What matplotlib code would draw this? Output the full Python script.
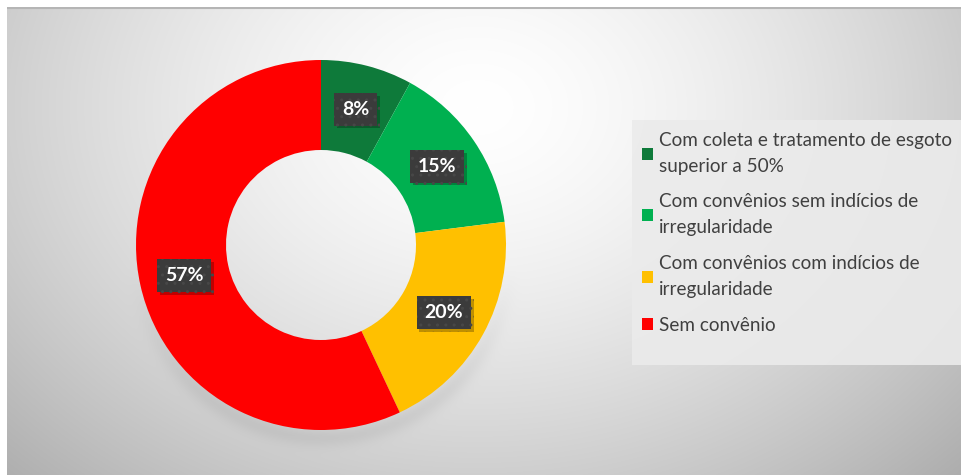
import numpy as np
import matplotlib.pyplot as plt
import matplotlib.patheffects as pe
from matplotlib.patches import Patch, Rectangle

# dados do gráfico
categorias = ['Com coleta e tratamento de esgoto\nsuperior a 50%',
              'Com convênios sem indícios de\nirregularidade',
              'Com convênios com indícios de\nirregularidade',
              'Sem convênio']
percentuais = [8, 15, 20, 57]
cores = ['#0E7A3A', '#00B050', '#FFC000', '#FF0000']

W, H = 961, 475
plt.rcParams['font.family'] = ['Lato', 'DejaVu Sans']
fig = plt.figure(figsize=(W / 100, H / 100), dpi=100)
fig.patch.set_facecolor('white')

# fundo com gradiente radial (claro no centro, cinza nas bordas)
bw, bh = W - 7, H - 7
bg = fig.add_axes([7 / W, 0, bw / W, bh / H])
yy, xx = np.mgrid[0:bh, 0:bw]
d = np.sqrt(((xx - 470) / 560) ** 2 + ((yy - 100) / 430) ** 2)
g = 1 - 0.24 * np.clip(d, 0, 1.3) ** 1.5
# sombra suave sob a rosca
r = np.sqrt((xx - 316) ** 2 + (yy - 244) ** 2)
g -= 0.05 * np.exp(-((r - 186) / 10) ** 2) * np.clip((yy - 260) / 120, 0, 1)
g = np.clip(g, 0, 1)
bg.imshow(np.dstack([g, g, g]), aspect='auto', extent=(0, bw, bh, 0))
bg.plot([0, bw], [0.5, 0.5], color='#b5b5b5', lw=1.5)
bg.set_xlim(0, bw)
bg.set_ylim(bh, 0)
bg.axis('off')

# caixa da legenda
fig.add_artist(Rectangle((632 / W, 1 - 365 / H), (W - 632) / W, 245 / H,
                         transform=fig.transFigure, facecolor='#ebebeb',
                         edgecolor='none', alpha=0.9))

# rosca
cx, cy, R = 321, 245, 185
ax = fig.add_axes([(cx - R) / W, (H - cy - R) / H, 2 * R / W, 2 * R / H])
furo = 95 / R
wedges, textos, rotulos = ax.pie(
    percentuais, colors=cores, startangle=90, counterclock=False,
    radius=1, wedgeprops=dict(width=1 - furo, edgecolor='none'),
    autopct=lambda p: '%d%%' % round(p), pctdistance=(1 + furo) / 2,
    textprops=dict(color='white', fontsize=14, fontweight='bold'))
for t in rotulos:
    t.set_bbox(dict(boxstyle='square,pad=0.4', facecolor='#3b3b3b',
                    edgecolor='#474747', hatch='..', linewidth=0))
    t.get_bbox_patch().set_path_effects(
        [pe.SimplePatchShadow(offset=(2, -2), shadow_rgbFace='#000000',
                              alpha=0.25), pe.Normal()])
ax.set_xlim(-1, 1)
ax.set_ylim(-1, 1)
ax.set_aspect('equal')
ax.axis('off')

# legenda
handles = [Patch(facecolor=c, edgecolor='none') for c in cores]
leg = fig.legend(handles, categorias, loc='upper left',
                 bbox_to_anchor=(638 / W, 1 - 128 / H),
                 frameon=False, fontsize=13.6,
                 handlelength=0.6, handleheight=0.6, handletextpad=0.3,
                 labelspacing=0.98, borderpad=0.2, borderaxespad=0)
for t in leg.get_texts():
    t.set_color('#404040')
    t.set_linespacing(1.65)

fig.savefig('out.png', dpi=100)
